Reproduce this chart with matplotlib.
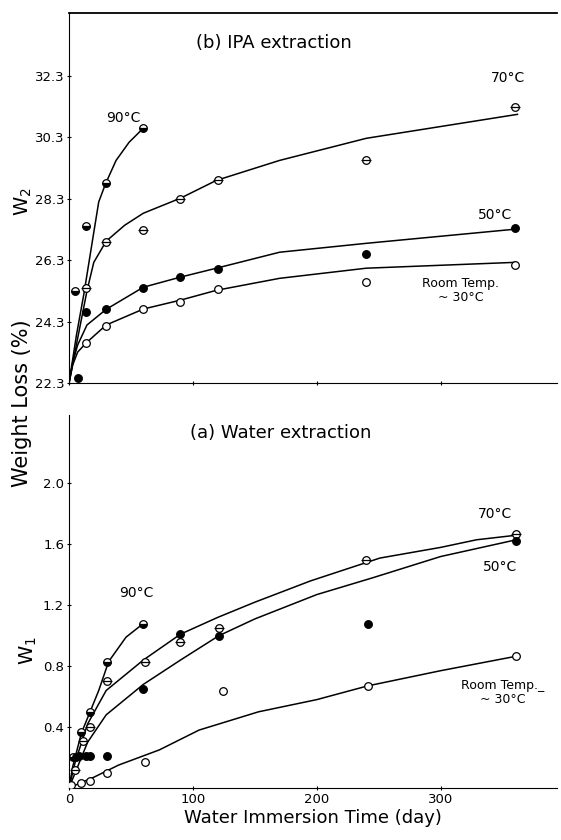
import matplotlib

matplotlib.use("Agg")
import matplotlib.pyplot as plt

# ---- (b) IPA extraction, W2 (%) ----
ipa_90_day = [5, 14, 30, 60]
ipa_90_w = [25.3, 27.4, 28.8, 30.6]
ipa_70_day = [14, 30, 60, 90, 120, 240, 360]
ipa_70_w = [25.4, 26.9, 27.3, 28.3, 28.9, 29.55, 31.3]
ipa_50_day = [7, 14, 30, 60, 90, 120, 240, 360]
ipa_50_w = [22.45, 24.6, 24.7, 25.4, 25.75, 26.0, 26.5, 27.35]
ipa_rt_day = [14, 30, 60, 90, 120, 240, 360]
ipa_rt_w = [23.6, 24.15, 24.7, 24.95, 25.35, 25.6, 26.15]

# fitted curves as drawn in the figure
ipa_90_fit_day = [0, 6, 12, 19.5, 24, 29.6, 38, 48.5, 60]
ipa_90_fit_w = [22.3, 23.86, 25.2, 27.08, 28.2, 28.8, 29.55, 30.14, 30.6]
ipa_70_fit_day = [0, 7, 14.6, 20, 30, 45, 60, 90, 119, 170, 240, 362]
ipa_70_fit_w = [22.3, 23.76, 25.32, 26.23, 26.92, 27.44, 27.83, 28.32, 28.9, 29.55, 30.27, 31.05]
ipa_50_fit_day = [0, 3, 7, 14.5, 30, 60, 90, 119, 170, 240, 360]
ipa_50_fit_w = [22.3, 22.98, 23.54, 24.19, 24.7, 25.42, 25.75, 26.04, 26.56, 26.85, 27.31]
ipa_rt_fit_day = [0, 3, 7, 14.5, 30, 60, 90, 119, 170, 240, 360]
ipa_rt_fit_w = [22.3, 22.89, 23.31, 23.63, 24.19, 24.71, 25.0, 25.32, 25.71, 26.04, 26.23]

# ---- (a) Water extraction, W1 (%) ----
wat_90_day = [3, 10, 17, 31, 60]
wat_90_w = [0.20, 0.37, 0.50, 0.83, 1.08]
wat_70_day = [5, 11, 17, 31, 61, 90, 121, 240, 361]
wat_70_w = [0.12, 0.31, 0.40, 0.70, 0.83, 0.96, 1.05, 1.50, 1.67]
wat_50_day = [6, 8, 14, 17, 31, 60, 90, 121, 241, 361]
wat_50_w = [0.20, 0.21, 0.21, 0.21, 0.21, 0.65, 1.01, 1.00, 1.08, 1.62]
wat_rt_day = [2, 10, 17, 31, 61, 124, 241, 361]
wat_rt_w = [0.02, 0.033, 0.046, 0.10, 0.17, 0.635, 0.67, 0.865]

wat_90_fit_day = [0, 3, 10, 17, 24, 32, 46, 60]
wat_90_fit_w = [0, 0.14, 0.36, 0.50, 0.64, 0.83, 0.99, 1.08]
wat_70_fit_day = [0, 5, 15, 30, 60, 90, 120, 150, 195, 251, 300, 329, 361]
wat_70_fit_w = [0, 0.17, 0.42, 0.64, 0.84, 1.01, 1.12, 1.22, 1.36, 1.51, 1.58, 1.63, 1.66]
wat_50_fit_day = [0, 5, 15, 30, 60, 90, 121, 150, 200, 245, 300, 361]
wat_50_fit_w = [0, 0.10, 0.30, 0.48, 0.68, 0.84, 1.0, 1.11, 1.27, 1.38, 1.52, 1.63]
wat_rt_fit_day = [0, 20, 40, 73, 105, 153, 200, 241, 300, 361]
wat_rt_fit_w = [0, 0.07, 0.15, 0.25, 0.38, 0.50, 0.58, 0.67, 0.77, 0.865]

ipa_ticks = [22.3, 24.3, 26.3, 28.3, 30.3, 32.3]
wat_ticks = [0.4, 0.8, 1.2, 1.6, 2.0]
day_ticks = [0, 100, 200, 300]

MS = 5.5


def draw_set(ax, d90, w90, d70, w70, d50, w50, drt, wrt):
    # 90 C: half filled circles
    ax.plot(d90, w90, "o", ms=MS, mec="k", mew=0.9, mfc="k",
            fillstyle="bottom", markerfacecoloralt="white", zorder=3)
    # 70 C: circle with a bar
    ax.plot(d70, w70, "o", ms=MS, mec="k", mew=0.9, mfc="white", zorder=3)
    ax.plot(d70, w70, "_", ms=MS + 1.5, mec="k", mew=0.9, zorder=4)
    # 50 C: filled
    ax.plot(d50, w50, "o", ms=MS, mec="k", mew=0.9, mfc="k", zorder=3)
    # room temperature: open
    ax.plot(drt, wrt, "o", ms=MS, mec="k", mew=0.9, mfc="white", zorder=3)


fig = plt.figure(figsize=(5.61, 8.4), dpi=100)
ax_b = fig.add_axes([0.123, 0.544, 0.870, 0.4405])
ax_a = fig.add_axes([0.123, 0.062, 0.870, 0.444])

for ax in (ax_a, ax_b):
    ax.spines["right"].set_visible(False)
    ax.set_xlim(0, 394)
    ax.set_xticks(day_ticks)
    ax.tick_params(direction="inout", length=3, width=0.8, labelsize=9.5, pad=2)

lw = 1.1
ax_b.spines["top"].set_linewidth(1.3)
ax_a.spines["top"].set_visible(False)

# top panel
for d, w in [(ipa_90_fit_day, ipa_90_fit_w), (ipa_70_fit_day, ipa_70_fit_w),
             (ipa_50_fit_day, ipa_50_fit_w), (ipa_rt_fit_day, ipa_rt_fit_w)]:
    ax_b.plot(d, w, "-", color="k", lw=lw, zorder=2)
draw_set(ax_b, ipa_90_day, ipa_90_w, ipa_70_day, ipa_70_w,
         ipa_50_day, ipa_50_w, ipa_rt_day, ipa_rt_w)
ax_b.set_ylim(22.3, 34.35)
ax_b.set_yticks(ipa_ticks)
ax_b.set_yticklabels([f"{t:.1f}" for t in ipa_ticks])
ax_b.tick_params(axis="x", labelbottom=False)
ax_b.text(165, 33.36, "(b) IPA extraction", ha="center", va="center", fontsize=13)
ax_b.text(44, 30.92, "90°C", ha="center", va="center", fontsize=10)
ax_b.text(354, 32.25, "70°C", ha="center", va="center", fontsize=10)
ax_b.text(344, 27.76, "50°C", ha="center", va="center", fontsize=10)
ax_b.text(316, 25.3, "Room Temp.\n~ 30°C", ha="center", va="center",
          fontsize=9, linespacing=1.1)

# bottom panel
for d, w in [(wat_90_fit_day, wat_90_fit_w), (wat_70_fit_day, wat_70_fit_w),
             (wat_50_fit_day, wat_50_fit_w), (wat_rt_fit_day, wat_rt_fit_w)]:
    ax_a.plot(d, w, "-", color="k", lw=lw, zorder=2)
draw_set(ax_a, wat_90_day, wat_90_w, wat_70_day, wat_70_w,
         wat_50_day, wat_50_w, wat_rt_day, wat_rt_w)
ax_a.set_ylim(0, 2.45)
ax_a.set_yticks(wat_ticks)
ax_a.set_yticklabels([f"{t:.1f}" for t in wat_ticks])
ax_a.text(171, 2.33, "(a) Water extraction", ha="center", va="center", fontsize=13)
ax_a.text(54, 1.28, "90°C", ha="center", va="center", fontsize=10)
ax_a.text(344, 1.80, "70°C", ha="center", va="center", fontsize=10)
ax_a.text(348, 1.45, "50°C", ha="center", va="center", fontsize=10)
ax_a.text(350, 0.63, "Room Temp._\n~ 30°C", ha="center", va="center",
          fontsize=9, linespacing=1.1)
ax_a.set_xlabel("Water Immersion Time (day)", fontsize=13, labelpad=2)

fig.text(0.040, 0.52, "Weight Loss (%)", rotation=90, ha="center", va="center", fontsize=15)
fig.text(0.042, 0.76, "W$_2$", rotation=90, ha="center", va="center", fontsize=14)
fig.text(0.050, 0.226, "W$_1$", rotation=90, ha="center", va="center", fontsize=14)

fig.savefig("out.png", dpi=100)
